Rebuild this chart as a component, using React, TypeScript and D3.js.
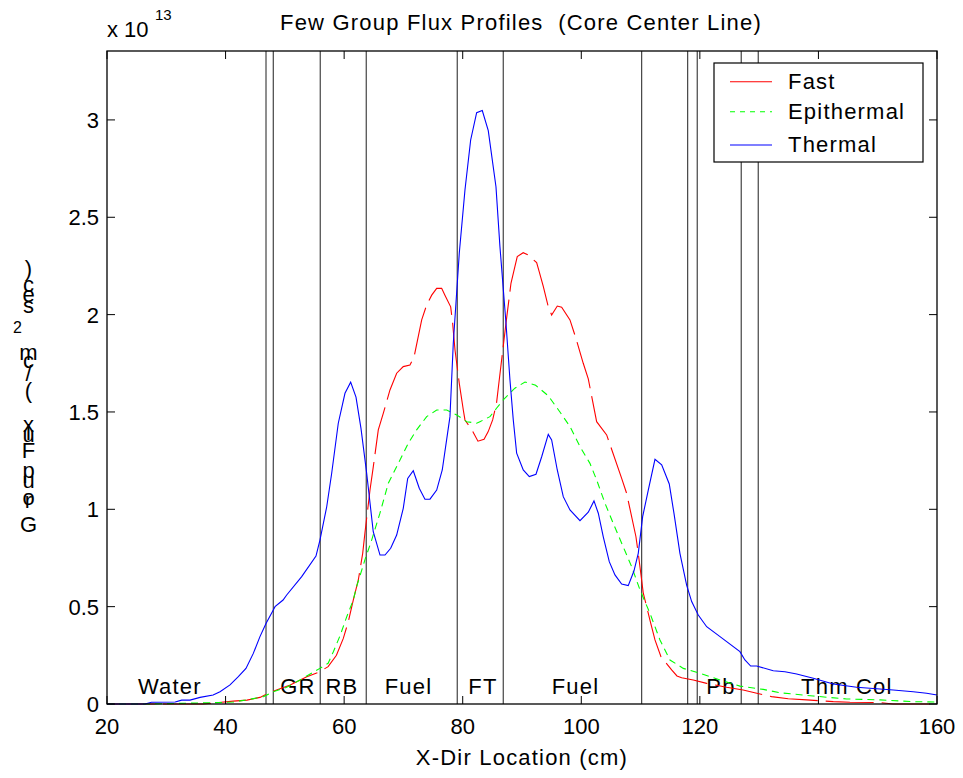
import React from "react";
import * as d3 from "d3";

// ---- data ----
const thermalX = [20,26.4,27.5,31.5,32.6,34,35.7,37.9,39.06,40.75,42.15,43.44,44.68,45.8,46.82,48.05,48.34,49.7,50.31,52.84,55.25,55.92,57.06,57.9,59.01,60.14,61.1,62.0,62.84,63.8,64.91,66.05,66.89,67.85,68.86,69.97,70.72,71.66,72.67,73.63,74.48,75.61,76.55,77.85,78.41,79.42,80.38,81.34,82.35,83.3,84.31,85.61,86.28,87.3,87.97,88.53,89.1,90.21,91.23,92.36,93.32,94.43,95.0,95.95,96.96,98.09,99.78,101.18,102.14,102.87,103.71,104.72,105.68,106.81,107.92,108.88,109.61,110.35,111.3,112.43,113.56,114.84,115.63,116.64,117.77,118.62,119.73,121.15,123.4,126.76,127.6,128.57,129.58,132.38,134.35,136.33,139.13,142.5,146.45,152.62,155.99,158.25,160];
const thermalY = [0,0,0.009,0.01,0.02,0.02,0.034,0.046,0.063,0.098,0.14,0.183,0.26,0.346,0.414,0.483,0.5,0.534,0.56,0.654,0.76,0.842,1.013,1.185,1.442,1.596,1.653,1.576,1.416,1.185,0.885,0.765,0.765,0.8,0.868,1.005,1.159,1.198,1.108,1.052,1.052,1.099,1.202,1.476,1.853,2.315,2.64,2.897,3.037,3.048,2.945,2.657,2.349,1.956,1.664,1.459,1.288,1.202,1.168,1.18,1.27,1.385,1.356,1.202,1.065,0.997,0.942,0.985,1.043,0.98,0.859,0.731,0.663,0.616,0.608,0.683,0.774,0.962,1.099,1.257,1.228,1.13,0.98,0.774,0.611,0.526,0.457,0.397,0.346,0.269,0.226,0.195,0.195,0.171,0.166,0.154,0.132,0.103,0.086,0.072,0.063,0.055,0.046];

const fastX = [20,26.7,36.2,38.5,41.3,43.6,45.8,46.9,48.6,50.9,53.7,55.9,57.3,58.7,59.86,60.7,61.54,62.39,63.13,63.5,64.36,64.92,65.76,66.6,67.73,68.86,69.97,71.1,71.8,73.08,73.92,74.77,75.61,76.45,77.0,77.97,78.3,78.7,79.42,80.1,80.38,81.56,82.57,83.6,84.3,85.05,85.7,86.16,87.3,88.14,88.8,89.2,90.2,91.06,92.47,92.9,93.6,94.43,95.0,95.95,96.69,98.09,99.1,100.33,101.18,102.59,104.28,106.81,107.65,109.22,109.61,110.46,111.58,112.43,113.44,115.24,116.14,116.93,118.89,121.15,124.5,127.3,129.6,132.1,134.9,138.0,142.5,145.3,150.4,152.6,160];
const fastY = [0,0,0,0.007,0.015,0.02,0.034,0.051,0.072,0.098,0.14,0.166,0.192,0.25,0.337,0.423,0.534,0.637,0.774,0.877,1.099,1.219,1.408,1.493,1.613,1.699,1.733,1.741,1.784,1.973,2.05,2.1,2.135,2.135,2.1,2.04,1.956,1.818,1.647,1.51,1.459,1.407,1.35,1.36,1.399,1.459,1.545,1.664,1.956,2.161,2.246,2.298,2.318,2.306,2.267,2.221,2.144,2.041,1.998,2.044,2.038,1.973,1.878,1.75,1.67,1.45,1.382,1.159,1.082,0.859,0.774,0.569,0.431,0.329,0.243,0.175,0.144,0.135,0.123,0.106,0.086,0.072,0.055,0.038,0.027,0.021,0.012,0.009,0.007,0,0];

const epiX = [20,26.7,38.5,41.3,44.1,46.4,48.05,50.3,52.55,55.9,57.3,58.2,59.3,60.4,61.54,62.1,63.5,64.64,66.04,67.45,69.42,70.82,72.23,73.92,75.61,77.3,78.98,80.67,82.35,82.9,84.6,85.7,86.84,88.5,88.8,90.5,92.3,94.43,96.4,98.09,99.78,101.46,102.59,104.0,105.39,106.81,108.5,109.9,111.58,113.27,114.96,117.2,120.0,123.4,126.76,130.7,133.5,139.1,144.75,150.4,156.0,160];
const epiY = [0,0,0.007,0.01,0.024,0.038,0.063,0.086,0.123,0.183,0.209,0.27,0.35,0.445,0.534,0.603,0.74,0.842,0.98,1.134,1.253,1.339,1.408,1.476,1.51,1.51,1.485,1.45,1.442,1.45,1.476,1.519,1.562,1.613,1.622,1.654,1.637,1.583,1.5,1.425,1.322,1.236,1.151,1.031,0.928,0.826,0.705,0.586,0.466,0.329,0.226,0.183,0.158,0.123,0.092,0.075,0.058,0.041,0.026,0.021,0.012,0.01];

const boundaries = [46.82, 48.05, 55.97, 63.73, 79.08, 86.84, 110.18, 117.94, 119.56, 126.98, 129.85];
const regionNames = ["Water", "GR", "RB", "Fuel", "FT", "Fuel", "Pb", "Thm Col"];
const regionCenters = [30.6, 52.2, 59.64, 70.85, 83.42, 99.02, 123.56, 144.8];

const xTicks = [20, 40, 60, 80, 100, 120, 140, 160];
const yTicks = [0, 0.5, 1, 1.5, 2, 2.5, 3];
const yTickLabels = ["0", "0.5", "1", "1.5", "2", "2.5", "3"];

const seriesNames = ["Fast", "Epithermal", "Thermal"];
const seriesColors = ["#ff0000", "#00ff00", "#0000ff"];

// rotated-glyph y label (as in reference), bottom to top
const yLabelChars = [
  { c: "G", y: 532 }, { c: "r", y: 508 }, { c: "o", y: 505 }, { c: "u", y: 488 },
  { c: "p", y: 478 }, { c: "F", y: 458 }, { c: "l", y: 440 }, { c: "u", y: 442 },
  { c: "x", y: 432 }, { c: "(", y: 398 }, { c: "/", y: 381 }, { c: "c", y: 368 },
  { c: "m", y: 360 }, { c: "s", y: 313 }, { c: "e", y: 302 }, { c: "c", y: 292 },
  { c: ")", y: 276 },
];

const W = 963, H = 778;
const L = 107, R = 937, T = 51, B = 704;
const FONT = "'Liberation Sans', Arial, Helvetica, sans-serif";

export default function App() {
  const x = d3.scaleLinear().domain([20, 160]).range([L, R]);
  const y = d3.scaleLinear().domain([0, 3.354]).range([B, T]);
  const line = d3.line<[number, number]>().x(d => x(d[0])).y(d => y(d[1]));
  const mk = (xs: number[], ys: number[]) => xs.map((v, i) => [v, ys[i]] as [number, number]);
  const series = [mk(fastX, fastY), mk(epiX, epiY), mk(thermalX, thermalY)];
  const dashes = ["48,8", "7,5", ""];

  return (
    <svg width={W} height={H} style={{ position: "absolute", left: 0, top: 0, background: "#fff" }} fontFamily={FONT}>
      <rect x={0} y={0} width={W} height={H} fill="#fff" />
      {/* boundaries */}
      {boundaries.map((b, i) => (
        <line key={"b" + i} x1={x(b)} x2={x(b)} y1={T} y2={B} stroke="#444" strokeWidth={1.2} />
      ))}
      {/* region labels */}
      {regionNames.map((n, i) => (
        <text key={"r" + i} x={x(regionCenters[i])} y={694} textAnchor="middle" fontSize={22} letterSpacing={1.2}>{n}</text>
      ))}
      {/* curves */}
      {series.map((s, i) => (
        <path key={"s" + i} d={line(s) || ""} fill="none" stroke={seriesColors[i]} strokeWidth={1.1}
          strokeDasharray={dashes[i] || undefined} />
      ))}
      {/* axes box */}
      <rect x={L} y={T} width={R - L} height={B - T} fill="none" stroke="#000" strokeWidth={1.3} />
      {xTicks.map((t, i) => (
        <g key={"xt" + i}>
          <line x1={x(t)} x2={x(t)} y1={B} y2={B - 8} stroke="#000" />
          <line x1={x(t)} x2={x(t)} y1={T} y2={T + 8} stroke="#000" />
          <text x={x(t)} y={734} textAnchor="middle" fontSize={22}>{t}</text>
        </g>
      ))}
      {yTicks.map((t, i) => (
        <g key={"yt" + i}>
          <line x1={L} x2={L + 8} y1={y(t)} y2={y(t)} stroke="#000" />
          <line x1={R} x2={R - 8} y1={y(t)} y2={y(t)} stroke="#000" />
          <text x={99} y={y(t) + 8} textAnchor="end" fontSize={22}>{yTickLabels[i]}</text>
        </g>
      ))}
      {/* exponent */}
      <text x={107} y={37} fontSize={22}>x 10</text>
      <text x={155} y={20} fontSize={15}>13</text>
      {/* title */}
      <text x={521} y={30} textAnchor="middle" fontSize={22} letterSpacing={1.2} style={{ whiteSpace: "pre" }}>{"Few Group Flux Profiles  (Core Center Line)"}</text>
      {/* x label */}
      <text x={522} y={765} textAnchor="middle" fontSize={22} letterSpacing={1.2}>X-Dir Location (cm)</text>
      {/* y label, stacked glyphs */}
      {yLabelChars.map((d, i) => (
        <text key={"yl" + i} x={28.5} y={d.y} textAnchor="middle" fontSize={22}>{d.c}</text>
      ))}
      <text x={17.5} y={333} textAnchor="middle" fontSize={16}>2</text>
      {/* legend */}
      <rect x={714} y={63} width={209} height={99} fill="#fff" stroke="#000" strokeWidth={1.2} />
      {seriesNames.map((n, i) => {
        const ly = [81.7, 111.7, 145][i];
        return (
          <g key={"lg" + i}>
            <line x1={730} x2={772} y1={ly} y2={ly} stroke={seriesColors[i]} strokeWidth={1.1}
              strokeDasharray={i === 1 ? "5,5" : undefined} />
            <text x={788} y={ly + 7} fontSize={22} letterSpacing={1.2}>{n}</text>
          </g>
        );
      })}
    </svg>
  );
}
